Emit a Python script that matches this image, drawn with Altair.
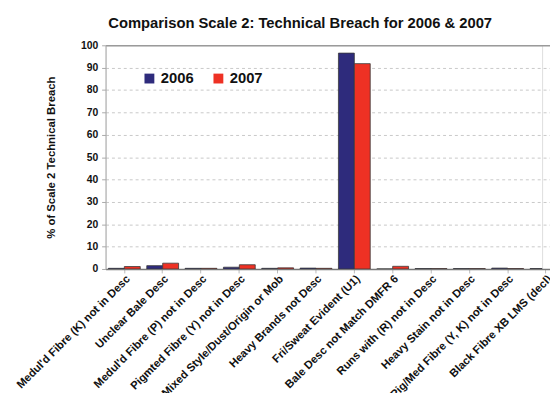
import altair as alt
import pandas as pd

categories = [
    "Medul'd Fibre (K) not in Desc",
    "Unclear Bale Desc",
    "Medul'd Fibre (P) not in Desc",
    "Pigmted Fibre (Y) not in Desc",
    "Mixed Style/Dust/Origin or Mob",
    "Heavy Brands not Desc",
    "Fri/Sweat Evident (U1)",
    "Bale Desc not Match DMFR 6",
    "Runs with (R) not in Desc",
    "Heavy Stain not in Desc",
    "Pig/Med Fibre (Y, K) not in Desc",
    "Black Fibre XB LMS (decl)",
]
v2006 = [0.3, 1.5, 0.3, 0.8, 0.3, 0.4, 96.5, 0.0, 0.2, 0.2, 0.4, 0.2]
v2007 = [1.1, 2.6, 0.3, 1.9, 0.5, 0.3, 91.8, 1.2, 0.2, 0.2, 0.2, 0.2]
years = ["2006", "2007"]
colors = ["#2E2B7C", "#EE3124"]

rows = []
for c, a, b in zip(categories, v2006, v2007):
    rows.append({"cat": c, "year": years[0], "val": a})
    rows.append({"cat": c, "year": years[1], "val": b})
df = pd.DataFrame(rows)

font = "Liberation Sans"

bars = alt.Chart(df).mark_bar(stroke="#3a3a3a", strokeWidth=0.8, clip=True).encode(
    x=alt.X("cat:N", sort=categories, title=None,
            scale=alt.Scale(paddingInner=0.17, paddingOuter=0.075,
                            range=[0, 466]),
            axis=alt.Axis(labelAngle=315, labelFont=font, labelFontSize=11.4,
                          labelFontWeight="bold", labelColor="#111",
                          labelLimit=300, ticks=True, tickColor="#bbb",
                          tickSize=4, domainColor="#777", domainWidth=1.5,
                          labelPadding=0, labelOverlap=False)),
    xOffset=alt.XOffset("year:N", sort=years),
    y=alt.Y("val:Q", title="% of Scale 2 Technical Breach",
            scale=alt.Scale(domain=[0, 100], nice=False),
            axis=alt.Axis(values=list(range(0, 101, 10)), labelFont=font,
                          labelFontSize=10.5, labelFontWeight="bold",
                          labelColor="#111", titleFont=font, titleFontSize=11.5,
                          titleFontWeight="bold", titleColor="#111",
                          titlePadding=24, grid=True,
                          gridDash={"condition": {"test": "datum.value === 100",
                                                  "value": []},
                                    "value": [3, 3]},
                          gridColor={"condition": {"test": "datum.value === 100",
                                                   "value": "#9a9a9a"},
                                     "value": "#c8c8c8"},
                          gridWidth={"condition": {"test": "datum.value === 100",
                                                   "value": 1.5},
                                     "value": 1},
                          tickColor="#aaa", tickSize=4,
                          domainColor="#aaa", labelPadding=4,
                          labelOverlap=False)),
    color=alt.Color("year:N", sort=years,
                    scale=alt.Scale(domain=years, range=colors),
                    legend=alt.Legend(title=None, orient="none", legendX=37,
                                      legendY=26, direction="horizontal",
                                      symbolType="square", symbolSize=100,
                                      symbolStrokeWidth=0, labelFont=font,
                                      labelFontSize=15, labelFontWeight="bold",
                                      labelColor="#111", columnPadding=17,
                                      labelOffset=4)),
)

chart = bars.properties(
    width=443,
    height=227,
    title=alt.Title("Comparison Scale 2: Technical Breach for 2006 & 2007",
                    font=font, fontSize=15, fontWeight="bold", color="#111",
                    offset=10, dx=-24),
    padding={"left": 99, "top": 35, "right": 8, "bottom": 123},
    autosize=alt.AutoSizeParams(type="none"),
).configure_view(strokeWidth=0).configure(background="white")

chart.save("out.html", embed_options={"renderer": "svg", "actions": False})
